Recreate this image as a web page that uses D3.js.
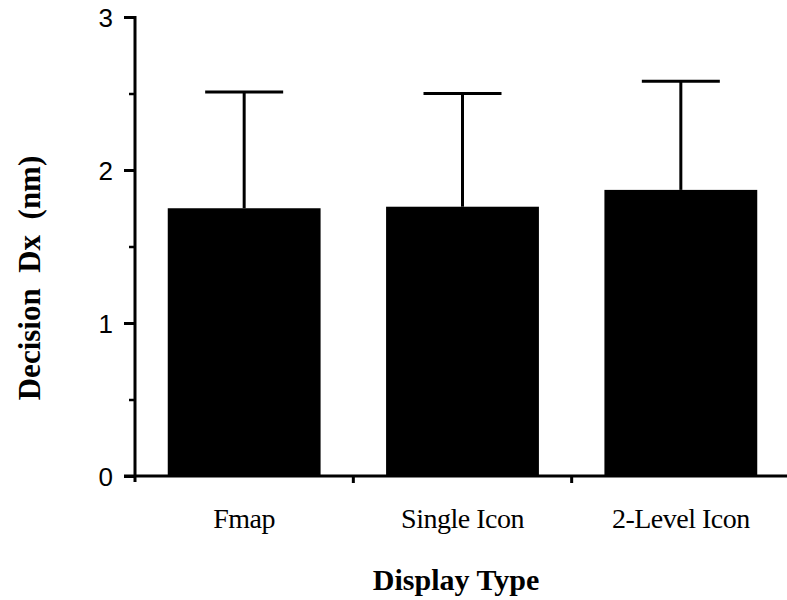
<!DOCTYPE html>
<html>
<head>
<meta charset="utf-8">
<script src="https://cdn.jsdelivr.net/npm/d3@7"></script>
<style>
  body { margin: 0; background: #fff; }
  svg { display: block; }
</style>
</head>
<body>
<div id="chart"></div>
<script>
'use strict';

// data
const categories = ['Fmap', 'Single Icon', '2-Level Icon'];
const means = [1.75, 1.76, 1.87];
const upperErr = [2.51, 2.50, 2.58];
const majorTicks = [0, 1, 2, 3];
const minorTicks = [0.5, 1.5, 2.5];

const WIDTH = 787, HEIGHT = 600;
const margin = {top: 17, left: 135, bottom: 124};

const svg = d3.select('#chart').append('svg')
    .attr('width', WIDTH)
    .attr('height', HEIGHT);

// scales
let x = d3.scaleBand()
    .domain(categories)
    .range([135, 790])
    .paddingInner(0.3)
    .paddingOuter(0.15);

let y = d3.scaleLinear()
    .domain([0, 3])
    .range([HEIGHT - margin.bottom, margin.top]);

// bars
svg.selectAll('rect.bar')
    .data(categories)
    .enter().append('rect')
    .attr('class', 'bar')
    .attr('x', d => x(d))
    .attr('width', x.bandwidth())
    .attr('y', (d, i) => y(means[i]))
    .attr('height', (d, i) => y(0) - y(means[i]))
    .attr('fill', '#000');

// error bars (upper only)
const capHalf = 39;
categories.forEach((c, i) => {
    let cx = x(c) + x.bandwidth() / 2;
    svg.append('line')
        .attr('x1', cx).attr('x2', cx)
        .attr('y1', y(means[i])).attr('y2', y(upperErr[i]))
        .attr('stroke', '#000').attr('stroke-width', 3);
    svg.append('line')
        .attr('x1', cx - capHalf).attr('x2', cx + capHalf)
        .attr('y1', y(upperErr[i])).attr('y2', y(upperErr[i]))
        .attr('stroke', '#000').attr('stroke-width', 3);
});

// y axis
let yAxis = svg.append('g')
    .attr('transform', 'translate(' + margin.left + ',0)')
    .call(d3.axisLeft(y).tickValues(majorTicks).tickFormat(d3.format('d')).tickSize(11).tickPadding(11));
yAxis.select('.domain').remove();
yAxis.selectAll('.tick line').attr('stroke-width', 3);
yAxis.selectAll('.tick text')
    .style('font-family', '"Liberation Sans", Arial, sans-serif')
    .style('font-size', '26px')
    .attr('dy', '0.36em')
    .attr('fill', '#000');

svg.append('g')
    .attr('transform', 'translate(' + margin.left + ',0)')
    .call(d3.axisLeft(y).tickValues(minorTicks).tickFormat('').tickSize(6))
    .call(g => g.select('.domain').remove())
    .selectAll('.tick line').attr('stroke-width', 2.5);

svg.append('line')
    .attr('x1', margin.left).attr('x2', margin.left)
    .attr('y1', y(3) - 1).attr('y2', y(0) + 6)
    .attr('stroke', '#000').attr('stroke-width', 3);

// x axis
svg.append('line')
    .attr('x1', 124).attr('x2', WIDTH)
    .attr('y1', y(0)).attr('y2', y(0))
    .attr('stroke', '#000').attr('stroke-width', 3);

let bandEdges = [categories[1], categories[2]].map(c => x(c) - x.step() * x.paddingInner() / 2);
svg.selectAll('line.xtick')
    .data(bandEdges)
    .enter().append('line')
    .attr('class', 'xtick')
    .attr('x1', d => d).attr('x2', d => d)
    .attr('y1', y(0)).attr('y2', y(0) + 7)
    .attr('stroke', '#000').attr('stroke-width', 3);

svg.selectAll('text.cat')
    .data(categories)
    .enter().append('text')
    .attr('class', 'cat')
    .attr('x', d => x(d) + x.bandwidth() / 2)
    .attr('y', 528)
    .attr('text-anchor', 'middle')
    .style('font-family', '"Liberation Serif", "Times New Roman", serif')
    .style('font-size', '28px')
    .style('letter-spacing', '-0.5px')
    .text(d => d);

// axis titles
svg.append('text')
    .attr('x', 456)
    .attr('y', 590)
    .attr('text-anchor', 'middle')
    .style('font-family', '"Liberation Serif", "Times New Roman", serif')
    .style('font-weight', 'bold')
    .style('font-size', '30px')
    .text('Display Type');

svg.append('text')
    .attr('transform', 'translate(40,278) rotate(-90)')
    .attr('text-anchor', 'middle')
    .attr('xml:space', 'preserve')
    .style('white-space', 'pre')
    .style('font-family', '"Liberation Serif", "Times New Roman", serif')
    .style('font-weight', 'bold')
    .style('font-size', '31px')
    .text('Decision  Dx  (nm)');
</script>
</body>
</html>
